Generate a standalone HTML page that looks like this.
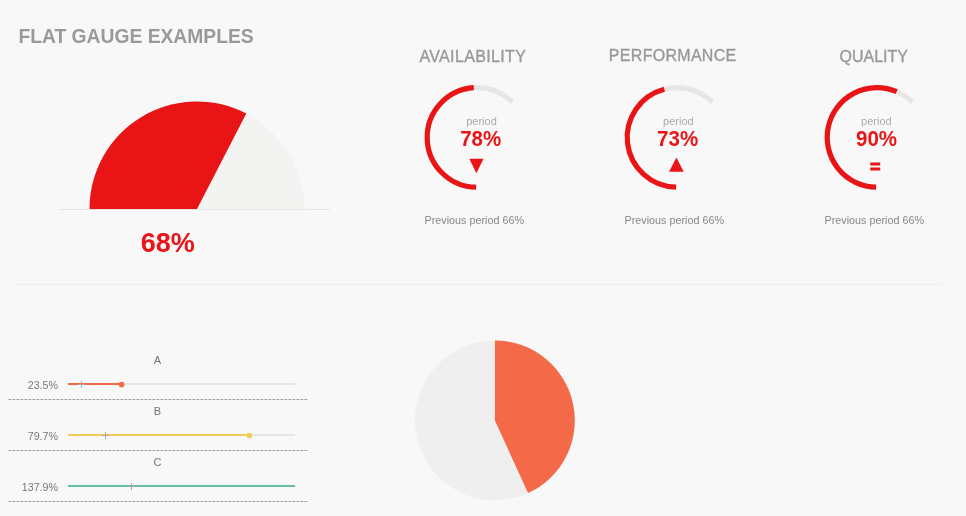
<!DOCTYPE html>
<html><head><meta charset="utf-8"><title>Flat Gauge Examples</title>
<style>
html,body{margin:0;padding:0}
body{width:966px;height:516px;background:#f8f8f8;position:relative;overflow:hidden;font-family:"Liberation Sans",sans-serif}
svg{position:absolute;left:0;top:0}
.t{position:absolute;white-space:nowrap;line-height:1}
.c{transform:translateX(-50%)}
h1{position:absolute;margin:0;left:18.4px;top:26.6px;font-size:19.3px;line-height:1;font-weight:bold;color:#999;white-space:nowrap}
.gt{font-size:16px;color:#999;-webkit-text-stroke:0.35px #999}
.per{font-size:11px;color:#aaa}
.val{font-size:20.5px;font-weight:bold;color:#e81416}
.vc{transform:translateX(-50%) scaleY(1.08);transform-origin:50% 100%}
.prev{font-size:10.8px;color:#888}
.big{font-size:27px;font-weight:bold;color:#e81416}
.lab{font-size:11px;color:#737373}
.pct{font-size:10.7px;color:#777;text-align:right;width:58px;left:0}
</style></head><body>
<svg width="966" height="516" viewBox="0 0 966 516">
<path d="M89.5 209A107.5 107.5 0 0 1 304.5 209Z" fill="#f3f3f1"/>
<path d="M89.5 209A107.5 107.5 0 0 1 246.30 113.47L197 209Z" fill="#e81416"/>
<rect x="59" y="209" width="271" height="1" fill="#e6e6e6"/>
<path d="M473.79 87.70A49.8 49.8 0 0 1 512.28 102.25" fill="none" stroke="#e6e6e6" stroke-width="5.2"/>
<path d="M476.13 187.19A49.8 49.8 0 0 1 473.79 87.70" fill="none" stroke="#e81416" stroke-width="5.2"/>
<path d="M664.28 89.25A49.8 49.8 0 0 1 712.28 102.25" fill="none" stroke="#e6e6e6" stroke-width="5.2"/>
<path d="M676.13 187.19A49.8 49.8 0 0 1 664.28 89.25" fill="none" stroke="#e81416" stroke-width="5.2"/>
<path d="M896.70 91.66A49.8 49.8 0 0 1 912.28 102.25" fill="none" stroke="#e6e6e6" stroke-width="5.2"/>
<path d="M876.13 187.19A49.8 49.8 0 1 1 896.70 91.66" fill="none" stroke="#e81416" stroke-width="5.2"/>
<polygon points="469.3,158.8 483.5,158.8 476.4,173.2" fill="#e81416"/>
<polygon points="669.1,171.8 683.7,171.8 676.4,157.4" fill="#e81416"/>
<line x1="17.3" y1="284.5" x2="943" y2="284.5" stroke="#ececec" stroke-width="1" stroke-dasharray="3 1"/>
<rect x="68" y="383" width="227" height="2" fill="#e6e6e6"/>
<rect x="68" y="383" width="53.3" height="2" fill="#f26946"/>
<circle cx="121.6" cy="384.5" r="2.85" fill="#f26946"/>
<rect x="81" y="381" width="1" height="7" fill="#a8a8a8"/><rect x="78" y="384" width="7" height="1" fill="#a8a8a8"/>
<line x1="8.3" y1="399.5" x2="308" y2="399.5" stroke="#a4a4a4" stroke-width="1" stroke-dasharray="3 1"/>
<rect x="68" y="434" width="227" height="2" fill="#e6e6e6"/>
<rect x="68" y="434" width="180.9" height="2" fill="#f3cb58"/>
<circle cx="249.2" cy="435.5" r="2.85" fill="#f3cb58"/>
<rect x="105" y="432" width="1" height="7" fill="#a8a8a8"/><rect x="102" y="435" width="7" height="1" fill="#a8a8a8"/>
<line x1="8.3" y1="450.5" x2="308" y2="450.5" stroke="#a4a4a4" stroke-width="1" stroke-dasharray="3 1"/>
<rect x="68" y="485" width="227" height="2" fill="#e6e6e6"/>
<rect x="68" y="485" width="227.0" height="2" fill="#66bca5"/>
<rect x="131" y="483" width="1" height="7" fill="#a8a8a8"/><rect x="128" y="486" width="7" height="1" fill="#a8a8a8"/>
<line x1="8.3" y1="501.5" x2="308" y2="501.5" stroke="#a4a4a4" stroke-width="1" stroke-dasharray="3 1"/>
<circle cx="494.9" cy="420.4" r="79.9" fill="#efefef"/>
<path d="M494.9 420.4L494.9 340.5A79.9 79.9 0 0 1 528.03 493.11Z" fill="#f46a48"/>
</svg>
<h1>FLAT GAUGE EXAMPLES</h1>
<div class="t big c" style="left:167.8px;top:229.5px">68%</div>

<div class="t gt c" style="left:472.8px;top:49px;letter-spacing:0.35px">AVAILABILITY</div>
<div class="t gt c" style="left:672.7px;top:48px;letter-spacing:0.29px">PERFORMANCE</div>
<div class="t gt c" style="left:873.7px;top:49px">QUALITY</div>

<div class="t per c" style="left:481.5px;top:116px">period</div>
<div class="t per c" style="left:678.4px;top:116px">period</div>
<div class="t per c" style="left:876.4px;top:116px">period</div>

<div class="t val vc" style="left:480.7px;top:128.5px">78%</div>
<div class="t val vc" style="left:677.6px;top:128.5px">73%</div>
<div class="t val vc" style="left:876.5px;top:128.5px">90%</div>
<div class="t val" style="left:870px;top:158px;font-size:18px;-webkit-text-stroke:0.9px #e81416">=</div>

<div class="t prev c" style="left:474.3px;top:215px">Previous period 66%</div>
<div class="t prev c" style="left:674.3px;top:215px">Previous period 66%</div>
<div class="t prev c" style="left:874.3px;top:215px">Previous period 66%</div>

<div class="t lab c" style="left:157.5px;top:355px">A</div>
<div class="t lab c" style="left:157.5px;top:406px">B</div>
<div class="t lab c" style="left:157.5px;top:457px">C</div>
<div class="t pct" style="top:380px">23.5%</div>
<div class="t pct" style="top:431px">79.7%</div>
<div class="t pct" style="top:482px">137.9%</div>
</body></html>
